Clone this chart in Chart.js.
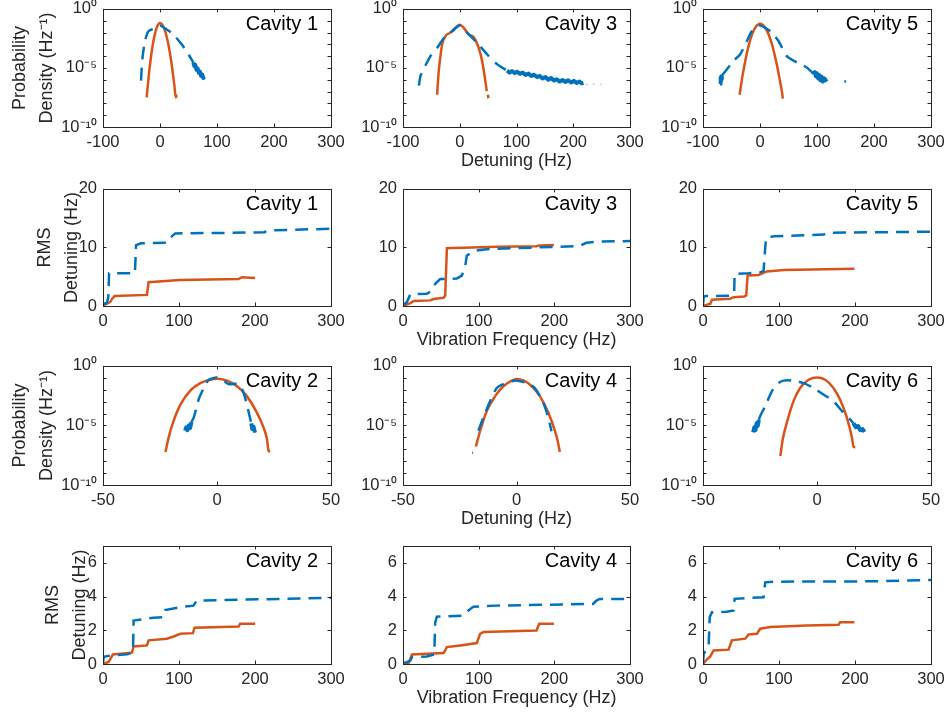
<!DOCTYPE html>
<html><head><meta charset="utf-8">
<script src="https://cdn.jsdelivr.net/npm/chart.js@4/dist/chart.umd.min.js"></script>
<style>
body{margin:0;background:#fff;width:946px;height:713px;overflow:hidden;position:relative}
canvas{position:absolute}
</style>
</head><body>
<script>
// ---------------- tick values & labels ----------------
const detuneWideTicks = [-100, 0, 100, 200, 300];
const detuneNarrowTicks = [-50, 0, 50];
const freqTicks = [0, 100, 200, 300];
const rmsWideTicks = [0, 10, 20];
const rmsNarrowTicks = [0, 2, 4, 6];
const pdfDecades = [1e-10, 1e-9, 1e-8, 1e-7, 1e-6, 1e-5, 1e-4, 1e-3, 1e-2, 1e-1, 1];
const pdfMajorTicks = [1e-10, 1e-5, 1];
const pdfMajorLabels = ['10⁻¹⁰', '10⁻⁵', '10⁰'];

// ---------------- probability density: [detuning Hz, density 1/Hz] ----------------
const cav1PdfBlue = [[-33.3,8.5e-7],[-32,1.1e-5],[-30.4,1e-4],[-26.3,1.9e-3],[-20.5,1.26e-2],[-11.7,2.1e-2],[0,4e-2],[11.7,1.8e-2],[23.4,6.8e-3],[38,1e-3],[49.7,1.45e-4],[58.5,2.9e-5]];
const cav1PdfBlueNoisy = [[58.5,2.9e-5],[60,1.5e-5],[62,1.8e-5],[64,7e-6],[66,9e-6],[68,4e-6],[70,5e-6],[72,2.2e-6],[74,2.8e-6],[76,1.4e-6],[78,1.8e-6]];
const cav1PdfOrange = [[-23.4,3.2e-8],[-20,1.6e-6],[-15,1.66e-4],[-10,4.5e-3],[-5,3.2e-2],[0,6.3e-2],[5,3.9e-2],[10,9.1e-3],[15,8.3e-4],[20,2.9e-5],[25,4e-7],[27.8,3.2e-8],[28.5,5e-8],[29,3.2e-8]];

const cav3PdfBlue = [[-72,3.2e-7],[-69,2.2e-6],[-60.4,1.6e-5],[-51.6,1e-4],[-39.9,5e-4],[-25.2,5e-3],[-13.5,1.26e-2],[0,4e-2],[12.9,1e-2],[30.5,1.35e-3],[48,1.45e-4],[65.7,2.1e-5],[83.3,5.8e-6]];
const cav3PdfBlueNoisy = [[83.3,5.8e-6],[88,4e-6],[92,5.5e-6],[97,3.6e-6],[101,4.8e-6],[106,3.2e-6],[111,4e-6],[116,2.6e-6],[121,3.3e-6],[126,2.1e-6],[131,2.7e-6],[136,1.7e-6],[141,2.1e-6],[146,1.3e-6],[151,1.7e-6],[156,1.0e-6],[161,1.4e-6],[166,8.5e-7],[171,1.1e-6],[176,7e-7],[181,9.5e-7],[186,6.5e-7],[191,9e-7],[196,5.8e-7],[201,8e-7],[206,5.4e-7],[211,7e-7],[215,5e-7],[218,5.5e-7]];
const cav3PdfBlueFaint = [[222,4e-7],[230,4e-7],[240,4.2e-7],[253,4e-7]];
const cav3PdfOrange = [[-39.9,5.4e-8],[-37,5.8e-6],[-34,1e-4],[-31,1e-3],[-25.2,5e-3],[-16.4,1e-2],[-7.6,2.5e-2],[0,4.6e-2],[7,2.5e-2],[15.8,6.8e-3],[24.6,4e-3],[33.4,5e-4],[39.3,4e-5],[45,8.5e-7],[47.5,1.1e-7],[48.5,null],[49.5,5.4e-8],[50.5,2.7e-8]];

const cav5PdfBlue = [[-66.8,2.2e-6],[-58,7.9e-6],[-46.4,4e-5],[-34.7,1.45e-4],[-23,1.9e-3],[-14.3,1.26e-2],[-2.6,4e-2],[9,2.5e-2],[20.8,1e-2],[32.5,1.9e-3],[47,1e-4],[64.6,2.9e-5],[82,1.1e-5],[93.8,3.2e-6],[120,null],[148,7.4e-7],[151,7.1e-7]];
const cav5PdfBlueNoisyLeft = [[-70,4.5e-7],[-69.3,1.5e-6],[-68.7,6e-7],[-67.8,2e-6],[-67.2,1.1e-6],[-66.8,2.2e-6]];
const cav5PdfBlueNoisyRight = [[93.8,3.2e-6],[96,4.5e-6],[98,2e-6],[100,3.5e-6],[102,1.3e-6],[104,2.5e-6],[106,9e-7],[108,1.8e-6],[110,7e-7],[113,1.3e-6],[117,7e-7]];
const cav5PdfOrange = [[-35.8,5.4e-8],[-30,3.3e-6],[-20,7.4e-4],[-10,1.9e-2],[0,5.6e-2],[10,2.2e-2],[20,1.45e-3],[30,1.5e-5],[35,7.9e-7],[38.5,1e-7],[40,2.5e-8]];

const cav2PdfBlue = [[-11.2,2e-5],[-10.2,4.6e-5],[-8,1.6e-3],[-5.8,1.4e-2],[-3.6,6.9e-2],[0,0.107],[2.9,5.8e-2],[5,3.0e-2],[9.5,3.0e-2],[11.4,7.4e-3],[13.1,5.9e-4],[15,1.5e-5]];
const cav2PdfBlueNoisyLeft = [[-14,3.6e-6],[-13.5,7e-6],[-13,4e-6],[-12.4,1e-5],[-11.8,6e-6],[-11.2,2e-5]];
const cav2PdfBlueNoisyRight = [[15,1.5e-5],[15.5,5e-6],[16,8e-6],[16.5,3.5e-6],[17.2,4e-6]];
const cav2PdfOrange = [[-22.6,5.8e-8],[-21.2,1e-6],[-19,2.5e-5],[-16,5.9e-4],[-11.7,8.5e-3],[-7.3,3.6e-2],[-2.9,6.9e-2],[0,8.3e-2],[4.4,5.8e-2],[8.8,1.95e-2],[13.1,2.9e-3],[17.5,1.2e-4],[20.4,6.8e-6],[21.9,7.4e-7],[22.6,7.9e-8],[23.2,6e-8]];

const cav4PdfBlue = [[-16.8,3.6e-6],[-14.6,4.6e-5],[-11.6,1.1e-3],[-8.7,1.4e-2],[-5.8,3e-2],[-2,5.2e-2],[0,5.8e-2],[4.5,3.6e-2],[8.1,1.4e-2],[11.8,7.9e-4],[14,4.6e-5],[15.4,3.2e-6]];
const cav4PdfOrange = [[-19.6,5e-8],[-19.2,5e-8],[-18.5,null],[-17.9,1.7e-7],[-16,3.6e-6],[-13.1,1.66e-4],[-9.4,2.9e-3],[-5.8,1.95e-2],[-2.1,5.8e-2],[0,7.9e-2],[3,6e-2],[6.7,1.95e-2],[10.3,2.9e-3],[14,1.2e-4],[16.9,3.6e-6],[18.1,5.4e-7],[19.1,5.8e-8]];

const cav6PdfBlue = [[-25.5,3e-5],[-24.9,6.3e-5],[-22.7,4.3e-4],[-19.8,7.4e-3],[-16.9,3.6e-2],[-14.7,5.8e-2],[-10.3,5.8e-2],[-5.9,3.6e-2],[-1.5,1.4e-2],[2.8,4e-3],[7.2,1.1e-3],[10.9,1.66e-4],[14.5,3.3e-5],[16,1.5e-5]];
const cav6PdfBlueNoisyLeft = [[-28,2.6e-6],[-27.5,7e-6],[-27,4e-6],[-26.5,1.5e-5],[-26,9e-6],[-25.5,3e-5]];
const cav6PdfBlueNoisyRight = [[16,1.5e-5],[17,7e-6],[18,9e-6],[19,4e-6],[20,5e-6],[20.8,2.8e-6]];
const cav6PdfOrange = [[-16.1,2.7e-8],[-15,7.4e-7],[-13.2,1.8e-5],[-10.3,1.1e-3],[-7.4,1.4e-2],[-3.7,6.9e-2],[0,0.107],[3.6,6.9e-2],[7.2,1.4e-2],[10.1,1.5e-3],[13.1,4.6e-5],[15.3,1e-6],[16,1.7e-7],[16.8,1.5e-7]];

// ---------------- cumulative RMS detuning: [vibration frequency Hz, RMS Hz] ----------------
const cav1RmsBlue = [[0,0.4],[5,0.5],[7,1.5],[8,5.6],[42,5.6],[43.5,10.4],[50,10.7],[84,10.8],[88,11.6],[95,12.4],[170,12.5],[212,12.6],[218,12.9],[300,13.2]];
const cav1RmsOrange = [[0,0.1],[5.3,0.4],[9.6,0.7],[11.8,1.2],[15.3,1.7],[57.8,1.9],[60,4.05],[101.6,4.45],[178,4.6],[182.7,4.9],[200,4.8]];
const cav3RmsBlue = [[0,0.1],[5.3,0.7],[9.7,2.0],[31.6,2.1],[38,2.6],[42.6,3.8],[49.2,4.6],[71,4.7],[77.7,5.2],[82,6.6],[84.3,8.6],[93,9.4],[110.7,9.7],[145.8,9.86],[233.6,10.25],[242.4,10.8],[255.6,11.0],[300,11.1]];
const cav3RmsOrange = [[0,0],[9.7,0.5],[14,0.85],[36,0.96],[40.4,1.18],[53.6,1.4],[55.8,1.8],[58,9.86],[62.4,9.9],[80,9.95],[123.8,10.1],[176.5,10.2],[180,10.35],[199.4,10.4]];
const cav5RmsBlue = [[0,0.1],[0.9,1.5],[3,1.7],[14,1.7],[35.9,1.75],[41,2.2],[41.6,5.5],[60,5.6],[75.3,5.75],[79.7,6.0],[81.9,10],[83.2,11.66],[92.9,11.9],[158.6,12.2],[165,12.5],[300,12.7]];
const cav5RmsOrange = [[0,0],[9.6,0.4],[11.8,1.07],[35.9,1.24],[40.3,1.5],[54.3,1.63],[56.9,1.8],[58.7,5.2],[73.2,5.3],[84.1,5.9],[106,6.14],[180.5,6.3],[199.3,6.37]];
const cav2RmsBlue = [[0,0.02],[0.9,0.41],[3,0.45],[9.6,0.5],[31.5,0.57],[39.4,0.7],[40.3,2.58],[66.6,2.74],[79.7,2.78],[81.9,3.2],[101.6,3.37],[119,3.46],[123.5,3.76],[215.5,3.84],[300,3.92]];
const cav2RmsOrange = [[0,0],[7.4,0.12],[13.1,0.57],[38,0.67],[40.3,1.04],[57.8,1.1],[60,1.4],[84,1.5],[92.9,1.63],[101.6,1.79],[118.3,1.83],[120.5,2.15],[178.3,2.22],[180.5,2.38],[200.2,2.38]];
const cav4RmsBlue = [[0,0.02],[9.7,0.2],[11.9,0.41],[31.6,0.45],[41.3,0.57],[42.6,2.48],[44.8,2.81],[79.9,2.87],[86.5,3.17],[93.1,3.4],[123.8,3.46],[251.2,3.56],[255.6,3.76],[260,3.86],[300,3.86]];
const cav4RmsOrange = [[0,0],[7.5,0.06],[11.9,0.57],[53.6,0.65],[58,1.0],[75.5,1.1],[97.5,1.24],[101.9,1.79],[106.3,1.89],[176.5,1.99],[180,2.38],[199.4,2.38]];
const cav6RmsBlue = [[0,0.02],[0.9,0.61],[7.4,1.0],[8.8,2.78],[11.8,3.07],[31.5,3.1],[40.3,3.17],[41.6,3.86],[79.7,3.96],[81.9,4.84],[92.9,4.88],[224,4.9],[300,4.98]];
const cav6RmsOrange = [[0,0],[5.3,0.28],[9.6,0.45],[14,0.8],[33.7,0.85],[38,1.4],[55.6,1.5],[60,1.75],[71,1.79],[75.3,2.09],[88.5,2.19],[136.7,2.28],[178.3,2.32],[180.5,2.48],[199.3,2.48]];

// ---------------- styling & layout ----------------
const FONT = "'Liberation Sans', Arial, Helvetica, sans-serif";
const INK = '#262626';
const BLUE = '#0072BD';
const ORANGE = '#D95319';
const cols = [{left:103, right:331}, {left:403, right:630}, {left:703, right:931}];
const rows = [{top:7, bottom:127}, {top:187, bottom:306}, {top:364, bottom:485}, {top:544, bottom:664}];

const panelKinds = {
  pdfWide:   {xMin:-100, xMax:300, xTicks:detuneWideTicks, log:true},
  rmsWide:   {xMin:0, xMax:300, xTicks:freqTicks, yMin:0, yMax:20, yTicks:rmsWideTicks},
  pdfNarrow: {xMin:-50, xMax:50, xTicks:detuneNarrowTicks, log:true},
  rmsNarrow: {xMin:0, xMax:300, xTicks:freqTicks, yMin:0, yMax:7, yTicks:rmsNarrowTicks}
};

const panels = [
  {row:0, col:0, kind:'pdfWide', label:'Cavity 1', blue:cav1PdfBlue, noisy:[cav1PdfBlueNoisy], orange:cav1PdfOrange, yTitle:['Probability','Density (Hz⁻¹)'], yPad:6.5},
  {row:0, col:1, kind:'pdfWide', label:'Cavity 3', blue:cav3PdfBlue, noisy:[cav3PdfBlueNoisy], faint:cav3PdfBlueFaint, orange:cav3PdfOrange, xTitle:'Detuning (Hz)'},
  {row:0, col:2, kind:'pdfWide', label:'Cavity 5', blue:cav5PdfBlue, noisy:[cav5PdfBlueNoisyLeft, cav5PdfBlueNoisyRight], orange:cav5PdfOrange},
  {row:1, col:0, kind:'rmsWide', label:'Cavity 1', blue:cav1RmsBlue, orange:cav1RmsOrange, yTitle:['RMS','Detuning (Hz)'], yPad:31.5},
  {row:1, col:1, kind:'rmsWide', label:'Cavity 3', blue:cav3RmsBlue, orange:cav3RmsOrange, xTitle:'Vibration Frequency (Hz)'},
  {row:1, col:2, kind:'rmsWide', label:'Cavity 5', blue:cav5RmsBlue, orange:cav5RmsOrange},
  {row:2, col:0, kind:'pdfNarrow', label:'Cavity 2', blue:cav2PdfBlue, noisy:[cav2PdfBlueNoisyLeft, cav2PdfBlueNoisyRight], orange:cav2PdfOrange, yTitle:['Probability','Density (Hz⁻¹)'], yPad:6.5},
  {row:2, col:1, kind:'pdfNarrow', label:'Cavity 4', blue:cav4PdfBlue, orange:cav4PdfOrange, xTitle:'Detuning (Hz)'},
  {row:2, col:2, kind:'pdfNarrow', label:'Cavity 6', blue:cav6PdfBlue, noisy:[cav6PdfBlueNoisyLeft, cav6PdfBlueNoisyRight], orange:cav6PdfOrange},
  {row:3, col:0, kind:'rmsNarrow', label:'Cavity 2', blue:cav2RmsBlue, orange:cav2RmsOrange, yTitle:['RMS','Detuning (Hz)'], yPad:39.5},
  {row:3, col:1, kind:'rmsNarrow', label:'Cavity 4', blue:cav4RmsBlue, orange:cav4RmsOrange, xTitle:'Vibration Frequency (Hz)'},
  {row:3, col:2, kind:'rmsNarrow', label:'Cavity 6', blue:cav6RmsBlue, orange:cav6RmsOrange}
];

function pts(arr) { return arr.map(p => ({x: p[0], y: p[1]})); }

const frameTicksPlugin = {
  id: 'frameTicks',
  afterDatasetsDraw(chart, args, opts) {
    const {ctx, chartArea: a, scales} = chart;
    const L = 3.5;
    ctx.save();
    ctx.strokeStyle = INK;
    ctx.lineWidth = 1;
    ctx.beginPath();
    scales.x.ticks.forEach(t => {
      const px = Math.round(scales.x.getPixelForValue(t.value)) + 0.5;
      ctx.moveTo(px, a.bottom); ctx.lineTo(px, a.bottom - L);
      ctx.moveTo(px, a.top); ctx.lineTo(px, a.top + L);
    });
    scales.y.ticks.forEach(t => {
      const py = Math.round(scales.y.getPixelForValue(t.value)) + 0.5;
      ctx.moveTo(a.left, py); ctx.lineTo(a.left + L, py);
      ctx.moveTo(a.right, py); ctx.lineTo(a.right - L, py);
    });
    ctx.stroke();
    ctx.strokeRect(Math.round(a.left) + 0.5, Math.round(a.top) + 0.5,
                   Math.round(a.right - a.left), Math.round(a.bottom - a.top));
    ctx.fillStyle = '#000';
    ctx.font = '20px ' + FONT;
    ctx.textAlign = 'right';
    ctx.textBaseline = 'middle';
    ctx.fillText(opts.label, a.right - 13, a.top + 16);
    ctx.restore();
  }
};

const PT = 14, PR = 22, XH = 50;

panels.forEach(p => {
  const k = panelKinds[p.kind];
  const c = cols[p.col], r = rows[p.row];
  const YW = p.col === 0 ? c.left : 75;
  const plotW = c.right - c.left, plotH = r.bottom - r.top;
  const cv = document.createElement('canvas');
  cv.width = YW + plotW + PR;
  cv.height = PT + plotH + XH;
  cv.style.left = (c.left - YW) + 'px';
  cv.style.top = (r.top - PT) + 'px';
  document.body.appendChild(cv);

  const datasets = [];
  const smoothPdf = !!k.log;
  datasets.push({
    data: pts(p.blue), borderColor: BLUE, borderWidth: 2.5, borderDash: [13, 8],
    pointRadius: 0, tension: smoothPdf ? 0.25 : 0, spanGaps: false, fill: false
  });
  (p.noisy || []).forEach(n => {
    datasets.push({
      data: pts(n), borderColor: BLUE, borderWidth: 4, borderJoinStyle: 'round',
      pointRadius: 0, tension: 0, fill: false
    });
  });
  if (p.faint) {
    datasets.push({
      data: pts(p.faint), borderColor: 'rgba(0,114,189,0.25)', borderWidth: 2, borderDash: [2, 5],
      pointRadius: 0, tension: 0, fill: false
    });
  }
  datasets.push({
    data: pts(p.orange), borderColor: ORANGE, borderWidth: 2.5,
    pointRadius: 0, tension: 0, cubicInterpolationMode: smoothPdf ? 'monotone' : 'default',
    spanGaps: false, fill: false
  });

  const tickFont = {family: FONT, size: 16.5};
  const yScale = k.log ? {
    type: 'logarithmic', min: 1e-10, max: 1,
    afterBuildTicks: s => { s.ticks = pdfDecades.map(v => ({value: v})); },
    ticks: {
      autoSkip: false, color: INK, font: tickFont, padding: 6,
      callback: v => {
        const i = pdfMajorTicks.findIndex(m => Math.abs(Math.log10(m) - Math.log10(v)) < 1e-6);
        return i >= 0 ? pdfMajorLabels[i] : '';
      }
    }
  } : {
    type: 'linear', min: k.yMin, max: k.yMax,
    afterBuildTicks: s => { s.ticks = k.yTicks.map(v => ({value: v})); },
    ticks: {autoSkip: false, color: INK, font: tickFont, padding: 6, callback: v => String(v)}
  };
  Object.assign(yScale, {
    grid: {display: false, drawTicks: false},
    border: {display: false},
    afterFit: s => { s.width = YW; },
    title: p.yTitle ? {
      display: true, text: p.yTitle, color: INK,
      font: {family: FONT, size: 18, lineHeight: 1.5},
      padding: {top: p.yPad, bottom: 0}
    } : {display: false}
  });

  const xScale = {
    type: 'linear', min: k.xMin, max: k.xMax,
    afterBuildTicks: s => { s.ticks = k.xTicks.map(v => ({value: v})); },
    ticks: {autoSkip: false, maxRotation: 0, color: INK, font: tickFont, padding: 6, callback: v => String(v)},
    grid: {display: false, drawTicks: false},
    border: {display: false},
    afterFit: s => { s.height = XH; },
    title: p.xTitle ? {
      display: true, text: p.xTitle, color: INK,
      font: {family: FONT, size: 18, lineHeight: 1.2},
      padding: {top: 0, bottom: 5}
    } : {display: false}
  };

  new Chart(cv, {
    type: 'line',
    data: {datasets},
    plugins: [frameTicksPlugin],
    options: {
      responsive: false, animation: false, devicePixelRatio: 1,
      layout: {padding: {top: PT, right: PR, left: 0, bottom: 0}},
      plugins: {legend: {display: false}, tooltip: {enabled: false}, frameTicks: {label: p.label}},
      scales: {x: xScale, y: yScale}
    }
  });
});
</script>
</body></html>
